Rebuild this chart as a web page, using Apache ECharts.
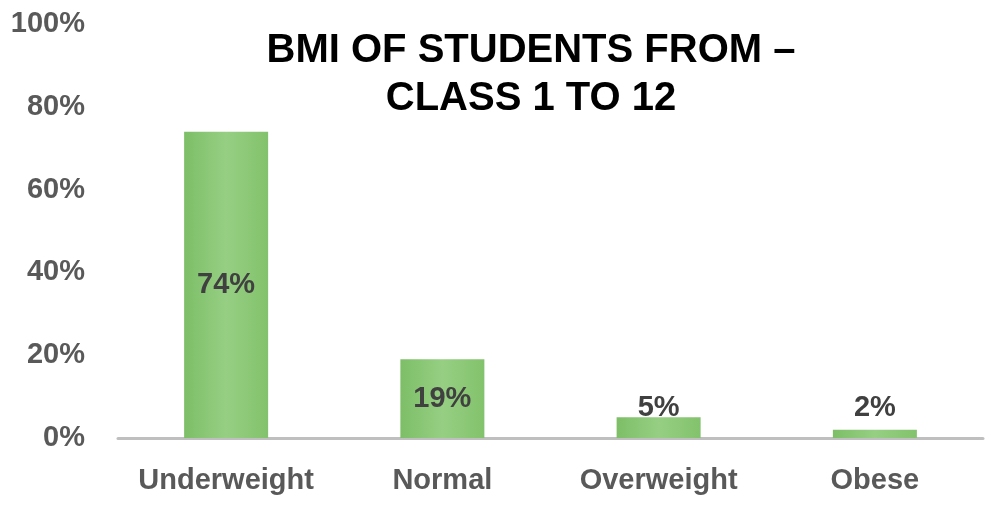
<!DOCTYPE html>
<html><head><meta charset="utf-8">
<script src="https://cdn.jsdelivr.net/npm/echarts@6/dist/echarts.min.js"></script>
<style>html,body{margin:0;padding:0;background:#fff}#c{width:993px;height:508px}</style>
</head><body><div id="c"></div>
<script>
const categories = ['Underweight', 'Normal', 'Overweight', 'Obese'];
const values = [74, 19, 5, 2];
const yTicks = [0, 20, 40, 60, 80, 100];
const titleLines = ['BMI OF STUDENTS FROM –', 'CLASS 1 TO 12'];

const FONT = '"Liberation Sans Narrow", "Arial Narrow", "Liberation Sans", Arial, sans-serif';
const chart = echarts.init(document.getElementById('c'));
chart.setOption({
  animation: false,
  title: {
    text: titleLines.join('\n'),
    left: 526, top: 22, textAlign: 'center',
    textStyle: { fontFamily: FONT, fontWeight: 'bold', fontSize: 40, color: '#000', lineHeight: 48 }
  },
  grid: { left: 118, right: 10, top: 24, bottom: 70 },
  xAxis: {
    type: 'category', data: categories,
    axisLine: { lineStyle: { color: '#BFBFBF', width: 3 } },
    axisTick: { show: false },
    axisLabel: { interval: 0, fontFamily: FONT, fontWeight: 'bold', fontSize: 29, color: '#595959', margin: 28 }
  },
  yAxis: {
    type: 'value', min: yTicks[0], max: yTicks[yTicks.length - 1], interval: 20,
    splitLine: { show: false },
    axisLine: { show: false }, axisTick: { show: false },
    axisLabel: { fontFamily: FONT, fontWeight: 'bold', fontSize: 29, color: '#595959', margin: 33, formatter: '{value}%' }
  },
  series: [{
    type: 'bar', barWidth: 84,
    data: values.map(v => ({
      value: v,
      label: v < 10 ? { position: 'insideBottom', distance: 16 } : { position: 'inside' }
    })),
    itemStyle: {
      color: new echarts.graphic.LinearGradient(0, 0, 1, 0, [
        { offset: 0, color: '#7DBE67' }, { offset: 0.5, color: '#96CF83' }, { offset: 1, color: '#83C26C' }
      ])
    },
    label: { show: true, fontFamily: FONT, fontWeight: 'bold', fontSize: 29, color: '#404040', formatter: '{c}%' }
  }]
});
</script></body></html>
